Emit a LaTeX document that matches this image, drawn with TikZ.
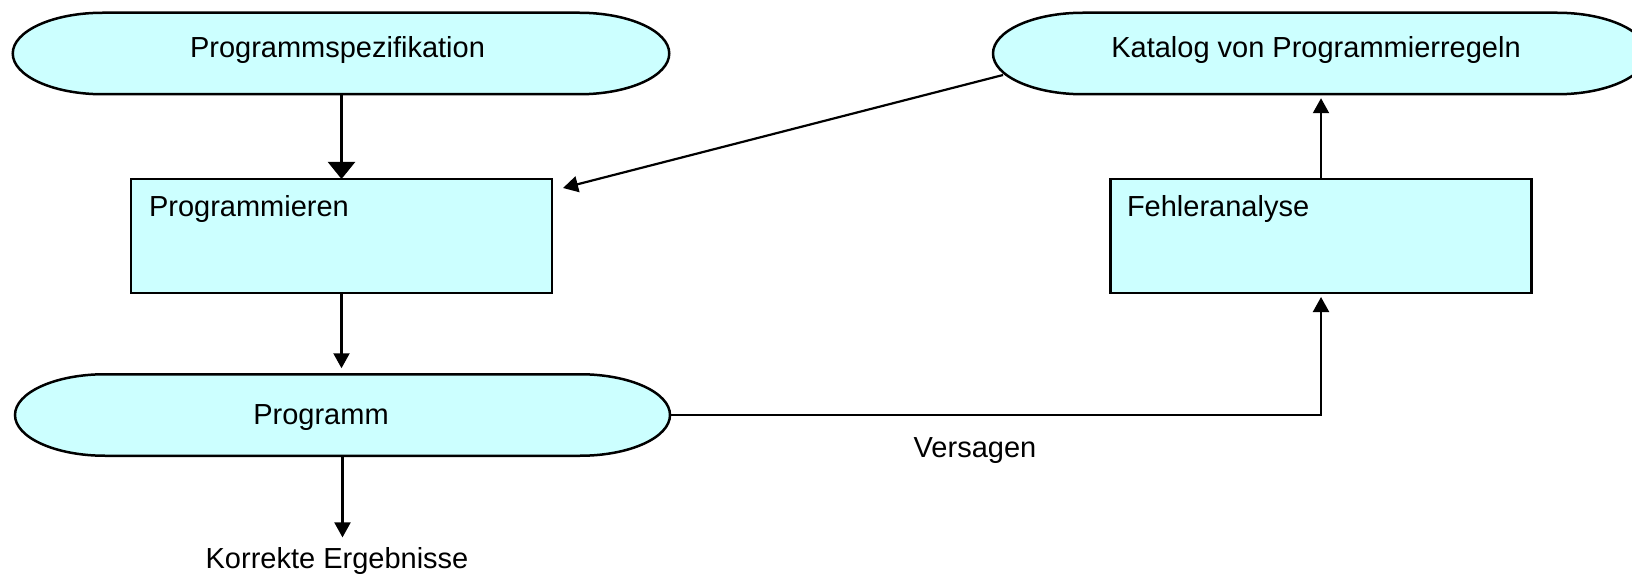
\documentclass[tikz,border=0pt]{standalone}
\usepackage{fontspec}
\setmainfont{Liberation Sans}
\usetikzlibrary{arrows.meta,calc}
\definecolor{boxfill}{RGB}{204,255,255}
\newcommand\stadiumpath[1]{%
  \draw[stad] ([xshift=45pt]#1.north west) -- ([xshift=-45pt]#1.north east)
    arc[start angle=90,end angle=-90,x radius=45pt,y radius=20.375pt]
    -- ([xshift=45pt]#1.south west)
    arc[start angle=270,end angle=90,x radius=45pt,y radius=20.375pt] -- cycle;}
\begin{document}
\begin{tikzpicture}[x=0.5pt,y=-0.5pt,
  font=\fontsize{14.5}{17}\selectfont,
  shapebox/.style={draw=none,fill=none,inner sep=0pt,outer sep=0pt,minimum height=40.75pt},
  stad/.style={draw=black,fill=boxfill,line width=1.25pt},
  rectbox/.style={draw=black,fill=boxfill,line width=1.25pt,inner sep=0pt,outer sep=0pt,minimum width=210.5pt,minimum height=57pt},
  txt/.style={inner sep=0pt,outer sep=0pt,anchor=base},
  txtw/.style={inner sep=0pt,outer sep=0pt,anchor=base west},
  arr/.style={draw=black,line width=1.1pt,-{Triangle[length=7.5pt,width=8pt]}},
  bigarr/.style={draw=black,line width=1.1pt,-{Triangle[length=8.5pt,width=13.5pt]}}]
\useasboundingbox (0,0) rectangle (1632,577);
% shapes
\node[shapebox,minimum width=328.25pt] (spec) at (341,53.5) {};
\node[shapebox,minimum width=327pt] (kat) at (1320,53.5) {};
\node[shapebox,minimum width=327.5pt] (programm) at (342.5,415) {};
\stadiumpath{spec}
\stadiumpath{kat}
\stadiumpath{programm}
\node[rectbox] (prog) at (341.5,236) {};
\node[rectbox] (fehl) at (1321,236) {};
% texts
\node[txt] (tspec) at (337.5,57.7) {Programmspezifikation};
\node[txt] (tkat) at (1316,58) {Katalog von Programmierregeln};
\node[txtw] (tprog) at (149,216.7) {Programmieren};
\node[txtw] (tfehl) at (1127,216.7) {Fehleranalyse};
\node[txt] (tprogramm) at (321,424) {Programm};
\node[txt] (korr) at (337,568) {Korrekte Ergebnisse};
\node[txt] (vers) at (975,457) {Versagen};
% connectors
\draw[bigarr] (prog.north |- spec.south) -- (prog.north);
\draw[arr,shorten >=3pt] (prog.south) -- (prog.south |- programm.north);
\draw[arr,shorten >=4.8pt] (programm.south) -- (programm.south |- korr.north);
\coordinate (ktip) at ([shift={(11,9)}]prog.north east);
\draw[arr] ([shift={(10,21.5)}]kat.west) -- (ktip);
\draw[arr,shorten >=2pt] (programm.east) -- (programm.east -| fehl.south) -- (fehl.south);
\draw[arr,shorten >=2pt] (fehl.north) -- (fehl.north |- kat.south);
\end{tikzpicture}
\end{document}
